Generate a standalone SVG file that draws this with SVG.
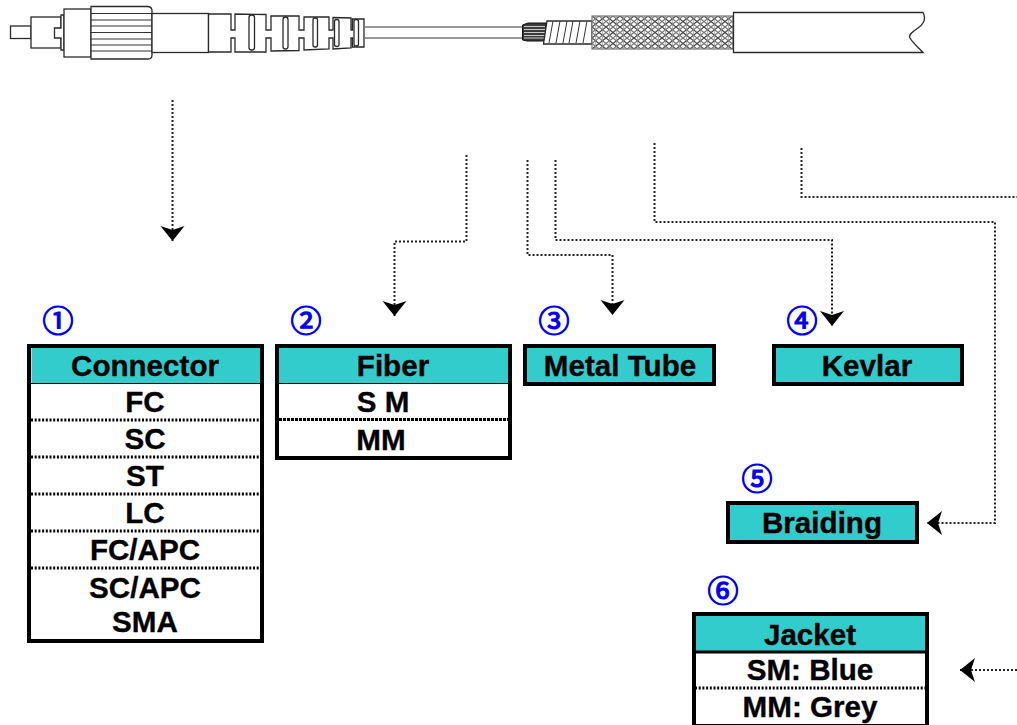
<svg xmlns="http://www.w3.org/2000/svg" width="1017" height="725" viewBox="0 0 1017 725">
<style>
text{font-family:"Liberation Sans",Arial,sans-serif;font-weight:bold;font-size:29.6px;fill:#000;stroke:#000;stroke-width:.35;text-anchor:middle}
text.n{font-family:"Noto Sans CJK JP","DejaVu Sans",sans-serif;font-weight:normal;font-size:31px;fill:#0000ee;stroke:#0000ee;stroke-width:1.2}
.box{fill:#fff;stroke:#000;stroke-width:4}
.head{fill:#33cccc}
.sep{stroke:#000;stroke-width:3;stroke-dasharray:2 1.7;fill:none}
.link{fill:none;stroke:#222;stroke-width:2;stroke-dasharray:2 2;marker-end:url(#a)}
.art{fill:#fff;stroke:#2a2a2a;stroke-width:1.3}
.thin{fill:none;stroke:#333;stroke-width:1}
</style>
<defs>
<marker id="a" markerUnits="userSpaceOnUse" markerWidth="16" markerHeight="26" viewBox="0 0 16 26" refX="15" refY="13" orient="auto">
<path d="M0 1 L15 13 L0 25 L4 13 Z" fill="#000"/>
</marker>
<pattern id="br" width="14" height="11" patternUnits="userSpaceOnUse" x="592" y="16">
<rect width="14" height="11" fill="#fff"/>
<path d="M0 5.500 L7 0 L14 5.500 L7 11 Z" fill="none" stroke="#777" stroke-width="1.200"/>
<path d="M0 0 L14 11 M0 11 L14 0" fill="none" stroke="#444" stroke-width="1.200"/>
<path d="M3.500 0 V11 M10.500 0 V11" fill="none" stroke="#999" stroke-width=".7"/>
</pattern>
</defs>

<g id="cable">
<rect class="art" x="10.500" y="26" width="20.500" height="12.500"/>
<rect class="art" x="31" y="17" width="30" height="31"/>
<path class="art" d="M61 15 H64 V50 H61 V38 H54.500 V28 H61 Z"/>
<rect class="art" x="64" y="9" width="27" height="48"/>
<path class="art" d="M91 6.500 H148 Q152 7 152 11 V55 Q152 59 148 59 H91 Z" stroke-width="1.6"/>
<path class="thin" d="M91 13.500 H152 M91 20 H152 M91 26 H152 M91 32.500 H152 M91 39 H152 M91 45 H152 M91 51 H152"/>
<rect class="art" x="152" y="13.500" width="56.500" height="39"/>
<path class="art" d="M208.500 14 H231 V30 H235 V14 L266 14.500 V30 H271 V16 L299 16 V30 H304 V17 L329 17 V30 H333 V17.500 L351 18 V30 H352.500 V19 H364 V47 H352.500 V38 H351 V48 L333 49 V38 H329 V49 L304 50 V38 H299 V50.500 L271 51 V38 H266 V52 L235 52 V38 H231 V52 H208.500 Z"/>
<rect class="art" x="249" y="15" width="5.500" height="35" rx="2.500"/>
<rect class="art" x="283" y="17" width="5" height="32" rx="2.500"/>
<rect class="art" x="313" y="18" width="4.500" height="29" rx="2"/>
<rect class="art" x="334.500" y="19.500" width="4.500" height="27" rx="2"/>
<rect class="art" x="354" y="19.500" width="4.500" height="26.500" rx="2"/>
<path d="M364 27 H523 M364 38 H523" fill="none" stroke="#777" stroke-width="1.500"/>
<path d="M522.500 25 L528 23 H546 V41 H527 L522.500 40 Z" fill="#3a3a3a" stroke="#111" stroke-width="1"/>
<path d="M524 26.500 H545 M524 29.500 H545 M524 32.500 H545 M524 35.500 H545 M524 38 H545" stroke="#ccc" stroke-width="1"/>
<path class="art" d="M547 21 H592 V44 H543.500 Z"/>
<path class="thin" d="M553 21 L549 43 M560 21 L556 43 M567 21 L563 43 M573 21 L569 43 M580 21 L576 43 M587 21 L583 43"/>
<rect x="592" y="16" width="141" height="33" fill="url(#br)" stroke="#777" stroke-width="1.200"/>
<path class="art" d="M733.500 12.500 H923 C926 18 925 23 918 28 C912 32 908 35 910 38 C912 42 918 47 923 52.500 H733.500 Z" stroke-width="1.500"/>
</g>

<g id="connectors">
<path class="link" d="M172.500 100 V241"/>
<path class="link" d="M466.500 155 V241.500 H394.500 V316"/>
<path class="link" d="M527.500 160 V255 H612.500 V315"/>
<path class="link" d="M555.500 160 V240 H832 V326"/>
<path class="link" d="M654.500 143 V222 H995 V523 H927"/>
<path class="link" d="M801.500 148 V197 H1017" style="marker-end:none"/>
<path class="link" d="M1017 670 H960"/>
</g>

<g id="connector">
<text class="n" x="58" y="332">①</text>
<rect class="box" x="29" y="346" width="233" height="295"/>
<rect class="head" x="31.500" y="348" width="228.500" height="35"/>
<path d="M31 383.500 H260" stroke="#000" stroke-width="1"/>
<path class="sep" d="M31 420 H260 M31 457 H260 M31 494 H260 M31 531 H260 M31 568 H260"/>
<text x="145" y="376">Connector</text>
<text x="145" y="412">FC</text>
<text x="145" y="449">SC</text>
<text x="145" y="486">ST</text>
<text x="145" y="523">LC</text>
<text x="145" y="560">FC/APC</text>
<text x="145" y="598">SC/APC</text>
<text x="145" y="632">SMA</text>
</g>

<g id="fiber">
<text class="n" x="306" y="332">②</text>
<rect class="box" x="277" y="346" width="233" height="112"/>
<rect class="head" x="279" y="348" width="229" height="35"/>
<path d="M279 383.500 H508" stroke="#000" stroke-width="1"/>
<path class="sep" d="M279 419.500 H508" style="stroke-dasharray:3 1"/>
<text x="393" y="376">Fiber</text>
<text x="383" y="412">S M</text>
<text x="381" y="450">MM</text>
</g>

<g id="metal-tube">
<text class="n" x="554" y="332">③</text>
<rect class="box head" x="525" y="346" width="189" height="38"/>
<text x="620" y="376">Metal Tube</text>
</g>

<g id="kevlar">
<text class="n" x="802" y="332">④</text>
<rect class="box head" x="774" y="346" width="188" height="38"/>
<text x="867" y="376">Kevlar</text>
</g>

<g id="braiding">
<text class="n" x="757" y="490">⑤</text>
<rect class="box head" x="728" y="503" width="189" height="39"/>
<text x="822" y="533">Braiding</text>
</g>

<g id="jacket">
<text class="n" x="723" y="602">⑥</text>
<rect class="box" x="694" y="614" width="233" height="112"/>
<rect class="head" x="696" y="616" width="229" height="35"/>
<path d="M696 652 H925" stroke="#000" stroke-width="3"/>
<path class="sep" d="M695 688 H925"/>
<text x="810" y="645">Jacket</text>
<text x="810" y="680">SM: Blue</text>
<text x="810" y="717">MM: Grey</text>
</g>
</svg>
